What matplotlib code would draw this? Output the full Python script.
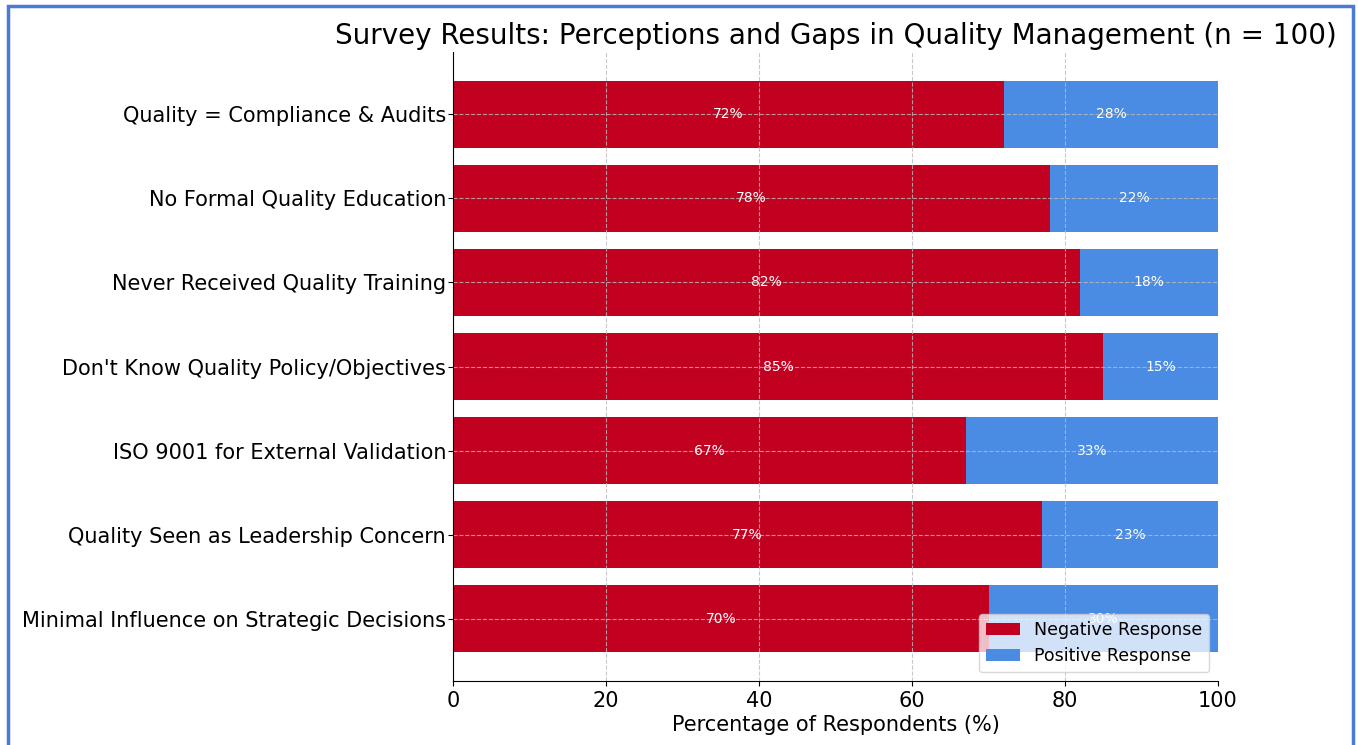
import numpy as np
import matplotlib
matplotlib.use("Agg")
import matplotlib.pyplot as plt
from matplotlib.patches import Rectangle

categories = [
    "Quality = Compliance & Audits",
    "No Formal Quality Education",
    "Never Received Quality Training",
    "Don't Know Quality Policy/Objectives",
    "ISO 9001 for External Validation",
    "Quality Seen as Leadership Concern",
    "Minimal Influence on Strategic Decisions",
]
negative = [72, 78, 82, 85, 67, 77, 70]
positive = [28, 22, 18, 15, 33, 23, 30]

red = "#C20020"
blue = "#4A8BE3"

fig = plt.figure(figsize=(13.58, 7.45), dpi=100)
ax = fig.add_axes([0.3336, 0.0859, 0.5633, 0.8443])

y = np.arange(len(categories))
neg_bars = ax.barh(y, negative, height=0.8, color=red, label="Negative Response")
pos_bars = ax.barh(y, positive, height=0.8, left=negative, color=blue, label="Positive Response")

for b, v in zip(neg_bars, negative):
    ax.text(b.get_x() + b.get_width() / 2, b.get_y() + b.get_height() / 2, f"{v}%",
            ha="center", va="center", color="white", fontsize=10)
for b, v in zip(pos_bars, positive):
    ax.text(b.get_x() + b.get_width() / 2, b.get_y() + b.get_height() / 2, f"{v}%",
            ha="center", va="center", color="white", fontsize=10)

ax.set_yticks(y)
ax.set_yticklabels(categories, fontsize=15)
ax.tick_params(axis="y", pad=1.5)
ax.invert_yaxis()
ax.set_xlim(0, 100)
ax.set_xticks([0, 20, 40, 60, 80, 100])
ax.tick_params(axis="x", labelsize=15)
ax.set_xlabel("Percentage of Respondents (%)", fontsize=15, labelpad=3)
ax.set_title("Survey Results: Perceptions and Gaps in Quality Management (n = 100)", fontsize=20, pad=6)

ax.grid(True, linestyle="--", color="#bbbbbb", alpha=0.8)
ax.spines["top"].set_visible(False)
ax.spines["right"].set_visible(False)

ax.legend(loc="lower right", fontsize=12.5, framealpha=0.75)

# outer blue frame
frame = Rectangle((8 / 1358, -0.05), 1345 / 1358, 1.042, transform=fig.transFigure,
                  fill=False, edgecolor="#4A7BD4", linewidth=2.5)
fig.patches.append(frame)

fig.savefig("out.png", dpi=100)
